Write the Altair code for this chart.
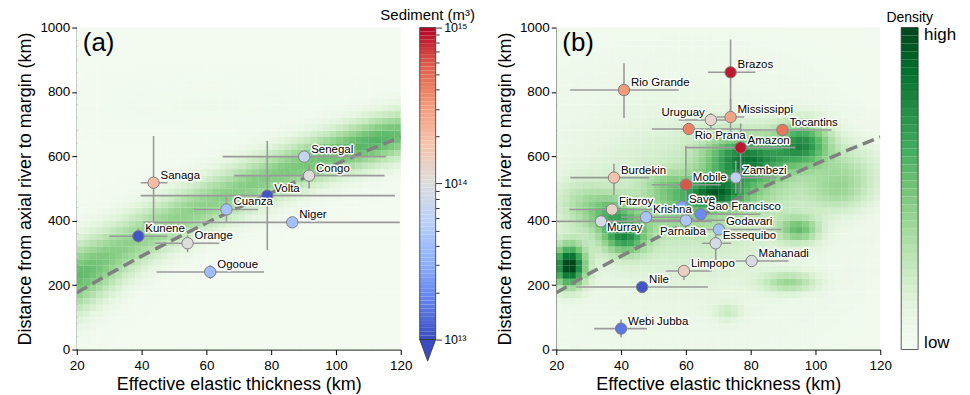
import altair as alt
import numpy as np
import pandas as pd

# ---------------- panel (a) rivers ----------------
a_river = ["Senegal", "Congo", "Volta", "Cuanza", "Niger", "Sanaga", "Kunene", "Orange", "Ogooue"]
a_te = [90.2, 91.7, 78.8, 66.2, 86.5, 43.7, 39.0, 54.2, 61.2]
a_dist = [599, 540, 478, 435, 395, 518, 352, 330, 241]
a_te_lo = [65.0, 68.6, 39.7, 56.0, 40.6, 39.7, 30.0, 44.0, 44.6]
a_te_hi = [115.4, 115.0, 118.2, 76.0, 119.7, 48.0, 48.0, 64.0, 77.8]
a_dist_lo = [599, 500, 309, 395, 395, 392, 330, 302, 219]
a_dist_hi = [599, 571, 648, 475, 395, 663, 376, 355, 262]
a_sed = [7e13, 1.05e14, 1.1e13, 4.4e13, 4.2e13, 2.0e14, 1.1e13, 1.0e14, 4.0e13]

# ---------------- panel (b) rivers ----------------
b_river = ["Brazos", "Rio Grande", "Uruguay", "Mississippi", "Rio Prana", "Tocantins", "Amazon",
           "Burdekin", "Mobile", "Zambezi", "Fitzroy", "Save", "Krishna", "Sao Francisco", "Murray",
           "Parnaiba", "Godavari", "Essequibo", "Mahanadi", "Limpopo", "Nile", "Webi Jubba"]
b_te = [73.8, 40.9, 67.7, 73.8, 60.9, 89.8, 76.9, 37.8, 60.0, 75.4, 37.2, 58.8, 47.7, 64.6, 33.8,
        60.0, 70.2, 69.2, 80.3, 59.4, 46.5, 40.0]
b_dist = [861, 806, 713, 722, 685, 682, 627, 534, 512, 534, 435, 444, 411, 420, 398,
          401, 373, 330, 275, 244, 194, 65]
b_te_lo = [66.8, 24.3, 57.8, 69.5, 49.5, 77.0, 60.0, 24.3, 49.5, 68.0, 24.0, 55.0, 40.0, 57.8, 20.0,
           45.0, 55.0, 65.0, 75.4, 53.8, 26.0, 31.7]
b_te_hi = [81.5, 57.8, 72.3, 78.0, 77.0, 105.0, 93.8, 48.6, 70.8, 88.0, 49.5, 62.0, 60.0, 83.0, 68.0,
           75.4, 89.5, 74.0, 91.7, 68.0, 66.8, 48.0]
b_dist_lo = [740, 719, 688, 675, 675, 682, 485, 480, 432, 485, 415, 425, 411, 400, 398,
             355, 373, 278, 275, 216, 194, 37]
b_dist_hi = [963, 889, 735, 780, 695, 682, 702, 577, 633, 586, 455, 465, 411, 440, 398,
             423, 373, 361, 275, 262, 194, 93]
b_sed = [8.7e14, 3.2e14, 1.2e14, 2.8e14, 4.0e14, 4.5e14, 9.0e14, 1.8e14, 6.0e14, 6.0e13, 1.3e14,
         2.8e13, 4.6e13, 2.0e13, 8.7e13, 4.8e13, 4.2e13, 9.0e13, 9.0e13, 1.4e14, 1.1e13, 1.6e13]

# ---------------- flexural trend line (dashed) ----------------
line_te = [20, 30, 40, 50, 60, 70, 80, 90, 100, 110, 120]
line_dist = [176, 235, 290, 342, 393, 441, 487, 532, 576, 619, 660]

# ---------------- density hot spots ----------------
# panel (a): narrow band along the trend
a_hx = [15, 25, 35, 45, 55, 65, 75, 85, 95, 105, 115, 125, 60]
a_hy = [190, 252, 318, 376, 428, 474, 516, 556, 594, 626, 656, 686, 760]
a_ha = [0.40, 0.36, 0.29, 0.28, 0.28, 0.28, 0.29, 0.30, 0.32, 0.35, 0.37, 0.30, 0.03]
a_hsx = [6.5, 6.5, 6.5, 6.5, 6.5, 6.5, 6.5, 6.5, 6.5, 6.5, 6.5, 6.5, 20]
a_hsy = [72, 64, 58, 55, 54, 54, 54, 52, 50, 50, 50, 50, 60]
a_base = 0.03
# panel (b): patchy field
b_hx = [24, 41, 37, 28, 69, 58, 96, 82, 74, 95, 92, 73, 107, 60, 80, 110, 54]
b_hy = [260, 352, 424, 450, 486, 440, 640, 588, 600, 372, 208, 115, 486, 450, 520, 560, 516]
b_ha = [0.95, 0.55, 0.3, 0.2, 0.5, 0.22, 0.6, 0.35, 0.28, 0.4, 0.3, 0.15, 0.2, 0.2, 0.2, 0.2, 0.15]
b_hsx = [3.5, 5, 5, 6, 6, 8, 6, 7, 7, 4.5, 6, 3, 7, 25, 12, 8, 5]
b_hsy = [45, 40, 40, 55, 30, 50, 48, 45, 55, 28, 22, 20, 45, 200, 90, 60, 30]
b_base = 0.05

# ---------------- text ----------------
X_TITLE = "Effective elastic thickness (km)"
Y_TITLE = "Distance from axial river to margin (km)"
X_TICKS = [20, 40, 60, 80, 100, 120]
Y_TICKS = [0, 200, 400, 600, 800, 1000]
SED_TITLE = "Sediment (m³)"
DENS_TITLE = "Density"

# coolwarm stops (log10 sediment exponent -> colour)
sed_exp = [13.0, 13.25, 13.5, 13.75, 14.0, 14.25, 14.5, 14.75, 15.0]
sed_col = ["#3b4cc0", "#6282ea", "#8db0fe", "#b8d0f9", "#dddddd", "#f5c4ad", "#f49a7b", "#de604d", "#b40426"]
# Greens stops
grn_stop = [0, 0.125, 0.25, 0.375, 0.5, 0.625, 0.75, 0.875, 1.0]
grn_col = ["#f7fcf5", "#e5f5e0", "#c7e9c0", "#a1d99b", "#74c476", "#41ab5d", "#238b45", "#006d2c", "#00441b"]

FONT = "Liberation Sans"

sed_scale = alt.Scale(type="log", domain=[10 ** e for e in sed_exp], range=sed_col,
                      interpolate="rgb", clamp=True)
dens_scale = alt.Scale(type="linear", domain=grn_stop, range=grn_col, interpolate="rgb", clamp=True)


def density_table(hx, hy, ha, hsx, hsy, base):
    xs = np.arange(21.0, 120.0, 2.0)
    ys = np.arange(10.0, 1000.0, 20.0)
    X, Y = np.meshgrid(xs, ys)
    D = np.full_like(X, base)
    for x0, y0, a, sx, sy in zip(hx, hy, ha, hsx, hsy):
        D = D + a * np.exp(-0.5 * (((X - x0) / sx) ** 2 + ((Y - y0) / sy) ** 2))
    D = np.clip(D, 0, 1)
    return pd.DataFrame({"x": X.ravel() - 1.0, "x2": X.ravel() + 1.08,
                         "y": Y.ravel() - 10.0, "y2": Y.ravel() + 10.6,
                         "d": np.round(D.ravel(), 3)})


LABEL_STYLES = {
    "std": dict(align="left", dx=7, dy=-7),
    "left": dict(align="right", dx=-6, dy=-7),
    "below": dict(align="left", dx=6, dy=7),
    "belowc": dict(align="center", dx=-3, dy=12),
}
B_LABEL_STYLE = {"Uruguay": "left", "Rio Prana": "below", "Murray": "below", "Parnaiba": "belowc"}


def panel(names, te, dist, te_lo, te_hi, d_lo, d_hi, sed, dens_df, tag, styles):
    df = pd.DataFrame(dict(river=names, te=te, dist=dist, te_lo=te_lo, te_hi=te_hi,
                           d_lo=d_lo, d_hi=d_hi, sed=sed))
    df["style"] = [styles.get(n, "std") for n in names]
    xs = alt.Scale(domain=[20, 120], nice=False, zero=False)
    ys = alt.Scale(domain=[0, 1000], nice=False, zero=False)
    xax = alt.Axis(values=X_TICKS, title=X_TITLE, grid=False, format="d", labelFlush=False,
                   labelPadding=4, titlePadding=4)
    yax = alt.Axis(values=Y_TICKS, title=Y_TITLE, grid=False, format="d", labelFlush=False)

    dens = alt.Chart(dens_df).mark_rect(clip=True, strokeWidth=0).encode(
        x=alt.X("x:Q", scale=xs, axis=xax), x2="x2:Q",
        y=alt.Y("y:Q", scale=ys, axis=yax), y2="y2:Q",
        color=alt.Color("d:Q", scale=dens_scale, legend=None))
    ldf = pd.DataFrame({"te": line_te, "dist": line_dist})
    line = alt.Chart(ldf).mark_line(strokeDash=[12, 6], color="#808080", strokeWidth=3.5, clip=True).encode(
        x=alt.X("te:Q", scale=xs, axis=xax), y=alt.Y("dist:Q", scale=ys, axis=yax))
    base = alt.Chart(df)
    hbar = base.mark_rule(color="#9a9a9a", strokeWidth=1.6, clip=True).encode(
        x=alt.X("te_lo:Q", scale=xs, axis=xax), x2="te_hi:Q", y=alt.Y("dist:Q", scale=ys, axis=yax))
    vbar = base.mark_rule(color="#9a9a9a", strokeWidth=1.6, clip=True).encode(
        x=alt.X("te:Q", scale=xs, axis=xax), y=alt.Y("d_lo:Q", scale=ys, axis=yax), y2="d_hi:Q")
    pts = base.mark_point(shape="circle", filled=True, size=130, stroke="#808080",
                          strokeWidth=1, opacity=1).encode(
        x=alt.X("te:Q", scale=xs, axis=xax), y=alt.Y("dist:Q", scale=ys, axis=yax),
        fill=alt.Fill("sed:Q", scale=sed_scale, legend=None))
    layers = [dens, line, hbar, vbar, pts]
    for key, st in LABEL_STYLES.items():
        sub = base.transform_filter(alt.datum.style == key)
        enc = dict(x=alt.X("te:Q", scale=xs, axis=xax), y=alt.Y("dist:Q", scale=ys, axis=yax),
                   text="river:N")
        halo = sub.mark_text(font=FONT, fontSize=11.5, baseline="middle", fill="white",
                             stroke="white", strokeWidth=3, strokeJoin="round", **st).encode(**enc)
        txt = sub.mark_text(font=FONT, fontSize=11.5, baseline="middle", color="black", **st).encode(**enc)
        layers += [halo, txt]
    tag_df = pd.DataFrame({"t": [tag]})
    tag_txt = alt.Chart(tag_df).mark_text(font=FONT, fontSize=26, align="left",
                                          baseline="alphabetic", color="black").encode(
        x=alt.value(6), y=alt.value(24), text="t:N")
    layers.append(tag_txt)
    return alt.layer(*layers).properties(width=325, height=323)


dens_a = density_table(a_hx, a_hy, a_ha, a_hsx, a_hsy, a_base)
dens_b = density_table(b_hx, b_hy, b_ha, b_hsx, b_hsy, b_base)

panel_a = panel(a_river, a_te, a_dist, a_te_lo, a_te_hi, a_dist_lo, a_dist_hi, a_sed, dens_a, "(a)", {})
panel_b = panel(b_river, b_te, b_dist, b_te_lo, b_te_hi, b_dist_lo, b_dist_hi, b_sed, dens_b, "(b)", B_LABEL_STYLE)

# ---------------- sediment colour bar (bar drawn 19px right of the panel) ----------------
GAP_A = 19
BAR_A = 16
n_sed = 80
e = np.linspace(13, 15, n_sed + 1)
sed_cb = pd.DataFrame({"lo": 10 ** e[:-1], "hi": 10 ** e[1:], "mid": 10 ** ((e[:-1] + e[1:]) / 2)})
sed_ticks = [m * 10 ** p for p in (13, 14) for m in range(1, 10)] + [10 ** 15]
major = "datum.value == 1e13 || datum.value == 1e14 || datum.value == 1e15"
cb_y_scale = alt.Scale(type="log", domain=[1e13, 1e15], nice=False)
cb_axis = alt.Axis(orient="right", values=sed_ticks, title=None, domain=False, grid=False,
                   labelExpr="datum.value == 1e13 ? '10¹³' : datum.value == 1e14 ? '10¹⁴' : datum.value == 1e15 ? '10¹⁵' : ''",
                   labelFontSize=12.5, labelOverlap=False, labelFlush=False, labelPadding=2,
                   tickSize={"condition": {"test": major, "value": 6}, "value": 3.5},
                   tickColor="black", tickWidth=0.8)
cb_bar = alt.Chart(sed_cb).mark_rect(strokeWidth=0).encode(
    x=alt.value(GAP_A), x2=alt.value(GAP_A + BAR_A),
    y=alt.Y("lo:Q", scale=cb_y_scale, axis=cb_axis), y2="hi:Q",
    fill=alt.Fill("mid:Q", scale=sed_scale, legend=None))
one = pd.DataFrame({"lo": [1e13], "hi": [1e15], "t": [SED_TITLE]})
cb_out = alt.Chart(one).mark_rect(filled=False, stroke="#333333", strokeWidth=0.8).encode(
    x=alt.value(GAP_A), x2=alt.value(GAP_A + BAR_A), y=alt.Y("lo:Q", scale=cb_y_scale, axis=cb_axis), y2="hi:Q")
cb_tri = alt.Chart(one).mark_point(shape="M-1,0L1,0L0,2.7Z", filled=True, fill="#3b4cc0",
                                   stroke="#333333", strokeWidth=0.8, size=256, opacity=1).encode(
    x=alt.value(GAP_A + BAR_A / 2), y=alt.Y("lo:Q", scale=cb_y_scale, axis=cb_axis))
cb_title = alt.Chart(one).mark_text(font=FONT, fontSize=15, align="center", baseline="alphabetic",
                                    color="black").encode(x=alt.value(GAP_A + BAR_A / 2), y=alt.value(-8), text="t:N")
cbar_a = alt.layer(cb_bar, cb_out, cb_tri, cb_title).properties(width=GAP_A + BAR_A, height=313)

# ---------------- spacer between the two halves ----------------
spacer = alt.Chart(pd.DataFrame({"s": [0]})).mark_point(opacity=0).encode(
    x=alt.value(0), y=alt.value(0)).properties(width=121, height=323)

# ---------------- density colour bar ----------------
GAP_B = 21
BAR_B = 17
n_d = 40
lv = np.linspace(0, 1, n_d + 1)
dens_cb = pd.DataFrame({"lo": lv[:-1], "hi": lv[1:], "mid": (lv[:-1] + lv[1:]) / 2})
dy_scale = alt.Scale(domain=[0, 1], nice=False, zero=False)
db_bar = alt.Chart(dens_cb).mark_rect(strokeWidth=0).encode(
    x=alt.value(GAP_B), x2=alt.value(GAP_B + BAR_B),
    y=alt.Y("lo:Q", scale=dy_scale, axis=None), y2="hi:Q",
    color=alt.Color("mid:Q", scale=dens_scale, legend=None))
done = pd.DataFrame({"lo": [0.0], "hi": [1.0], "t": [DENS_TITLE], "h": ["high"], "l": ["low"]})
db_out = alt.Chart(done).mark_rect(filled=False, stroke="#333333", strokeWidth=0.8).encode(
    x=alt.value(GAP_B), x2=alt.value(GAP_B + BAR_B), y=alt.Y("lo:Q", scale=dy_scale, axis=None), y2="hi:Q")
db_title = alt.Chart(done).mark_text(font=FONT, fontSize=14, align="center", baseline="alphabetic",
                                     color="black").encode(x=alt.value(GAP_B + BAR_B / 2), y=alt.value(-6), text="t:N")
db_high = alt.Chart(done).mark_text(font=FONT, fontSize=17, align="left", baseline="top",
                                    color="black").encode(x=alt.value(GAP_B + BAR_B + 6), y=alt.value(-1), text="h:N")
db_low = alt.Chart(done).mark_text(font=FONT, fontSize=17, align="left", baseline="bottom",
                                   color="black").encode(x=alt.value(GAP_B + BAR_B + 6), y=alt.value(325), text="l:N")
cbar_b = alt.layer(db_bar, db_out, db_title, db_high, db_low).properties(width=GAP_B + BAR_B, height=323)

res = dict(x="independent", y="independent", color="independent", fill="independent")
chart = alt.hconcat(panel_a, cbar_a, spacer, panel_b, cbar_b, spacing=0, bounds="flush").resolve_scale(**res).properties(
    padding={"left": 8, "top": -1, "right": 5, "bottom": 2}
).configure_view(stroke=None).configure_axis(
    labelFont=FONT, titleFont=FONT, labelFontSize=13.5, titleFontSize=18, titleFontWeight="normal",
    labelColor="black", titleColor="black", domainColor="black", tickColor="black",
    tickSize=5, labelPadding=2, titlePadding=5, domainWidth=1
)

chart.save("out.html", embed_options={"renderer": "svg", "actions": False})
